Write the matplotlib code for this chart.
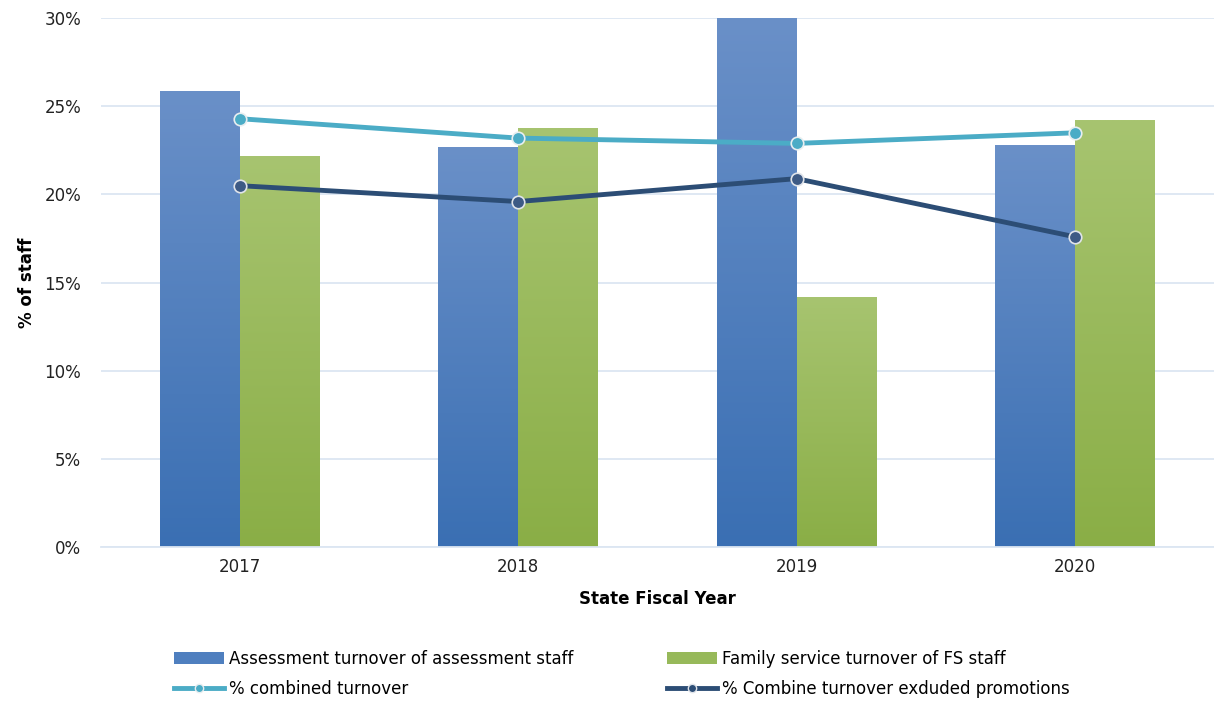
import numpy as np
import matplotlib.pyplot as plt
from matplotlib.colors import LinearSegmentedColormap
from matplotlib.lines import Line2D
from matplotlib.patches import Patch

# Data (percent of staff)
years = ['2017', '2018', '2019', '2020']
assessment = [25.9, 22.7, 30.0, 22.8]
family_service = [22.2, 23.8, 14.2, 24.2]
combined = [24.3, 23.2, 22.9, 23.5]
combined_excl_promo = [20.5, 19.6, 20.9, 17.6]

plt.rcParams['font.family'] = ['DejaVu Sans']

fig = plt.figure(figsize=(12.14, 7.03), dpi=100)
ax = fig.add_axes([0.083, 0.222, 0.917, 0.752])

x = np.arange(len(years))
width = 0.287

blue_cmap = LinearSegmentedColormap.from_list('b', ['#3a6fb3', '#6a90c8'])
green_cmap = LinearSegmentedColormap.from_list('g', ['#8aae46', '#a7c470'])
grad = np.linspace(0, 1, 256).reshape(-1, 1)

def gradient_bars(xpos, vals, cmap):
    bars = ax.bar(xpos, vals, width, color='none', edgecolor='none', zorder=2)
    for b in bars:
        x0, y0 = b.get_x(), b.get_y()
        w, h = b.get_width(), b.get_height()
        im = ax.imshow(grad, extent=(x0, x0 + w, y0, y0 + h), origin='lower',
                       cmap=cmap, aspect='auto', zorder=2)
        im.set_clip_path(b)
    return bars

gradient_bars(x - width / 2, assessment, blue_cmap)
gradient_bars(x + width / 2, family_service, green_cmap)

ax.plot(x, combined, color='#4bacc6', lw=3.5, marker='o', ms=9,
        markerfacecolor='#4bacc6', markeredgecolor='#e8eef0', markeredgewidth=1.2, zorder=4)
ax.plot(x, combined_excl_promo, color='#2c4d75', lw=3.5, marker='o', ms=9,
        markerfacecolor='#3d5a85', markeredgecolor='#e0e4ea', markeredgewidth=1.2, zorder=4)

ax.set_xlim(-0.5, 3.5)
ax.set_ylim(0, 30)
ax.set_yticks(range(0, 31, 5))
ax.set_yticklabels([f'{v}%' for v in range(0, 31, 5)], fontsize=12, color='#222222')
ax.set_xticks(x)
ax.set_xticklabels(years, fontsize=12, color='#222222')
ax.tick_params(length=0, pad=14)
ax.tick_params(axis='x', pad=8)

ax.grid(axis='y', color='#dce6f2', lw=1.3, zorder=0)
ax.set_axisbelow(True)
for s in ['top', 'right', 'left']:
    ax.spines[s].set_visible(False)
ax.spines['bottom'].set_color('#dce6f2')
ax.spines['bottom'].set_linewidth(1.3)

ax.set_ylabel('% of staff', fontsize=12, fontweight='bold', labelpad=6)
ax.set_xlabel('State Fiscal Year', fontsize=12, fontweight='bold', labelpad=10)

handles = [
    Patch(facecolor='#4f7fbf', label='Assessment turnover of assessment staff'),
    Line2D([], [], color='#4bacc6', lw=3.5, marker='o', ms=6, markeredgecolor='#e8eef0',
           label='% combined turnover'),
    Patch(facecolor='#97b95a', label='Family service turnover of FS staff'),
    Line2D([], [], color='#2c4d75', lw=3.5, marker='o', ms=6, markeredgecolor='#e0e4ea',
           label='% Combine turnover exduded promotions'),
]
fig.legend(handles=handles, loc='lower left', bbox_to_anchor=(0.131, -0.014), ncol=2,
           frameon=False, fontsize=12, handlelength=3.0, columnspacing=5.6,
           handletextpad=0.3, labelspacing=0.74)

fig.savefig('out.png', dpi=100)
